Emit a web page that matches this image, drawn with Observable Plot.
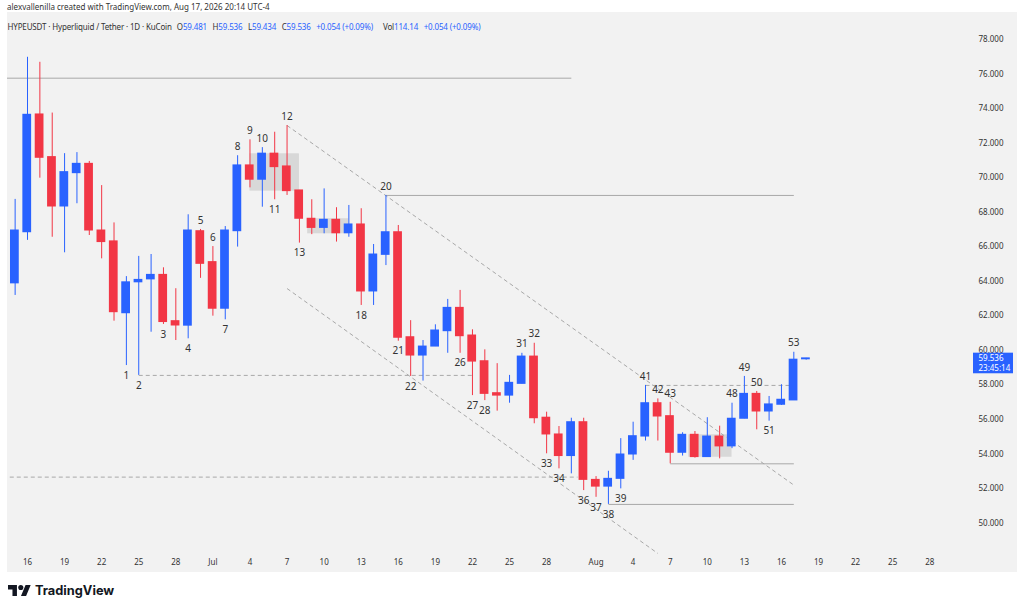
<!DOCTYPE html>
<html><head><meta charset="utf-8">
<script src="https://cdn.jsdelivr.net/npm/d3@7"></script>
<script src="https://cdn.jsdelivr.net/npm/@observablehq/plot@0.6"></script>
<style>
html,body{margin:0;padding:0;background:#fff;width:1024px;height:612px;overflow:hidden;font-family:"Noto Sans",sans-serif;}
#top{position:absolute;left:7px;top:1px;font-size:8px;line-height:11px;color:#333;white-space:pre;}
#panel{position:absolute;left:7px;top:12px;width:1010px;height:560px;background:#f2f2f2;overflow:hidden;}
#legend{position:absolute;left:7.5px;top:21px;font-size:8px;letter-spacing:-0.15px;line-height:12px;color:#333;white-space:pre;z-index:2;}
#legend .v{color:#2962ff}
#legend .g{margin-left:5.5px}
#logo{position:absolute;left:8px;top:583px;display:flex;align-items:center;gap:4px;font-family:Inter,sans-serif;font-weight:700;font-size:12.8px;color:#131722;}
</style></head><body>
<div id="top">alexvallenilla created with TradingView.com, Aug 17, 2026 20:14 UTC-4</div>
<div id="panel"></div>
<div id="legend"></div>
<div id="logo"><svg width="23" height="11.5" viewBox="0 4 36 18"><path fill="#131722" d="M14 22H7V11H0V4h14v18zM28 22h-8l7.5-18h8L28 22z"/><circle fill="#131722" cx="20" cy="8" r="4"/></svg><span>TradingView</span></div>
<script>
// ---- data ----
const dates = [
 "2026-06-15","2026-06-16","2026-06-17","2026-06-18","2026-06-19","2026-06-20","2026-06-21","2026-06-22",
 "2026-06-23","2026-06-24","2026-06-25","2026-06-26","2026-06-27","2026-06-28","2026-06-29","2026-06-30",
 "2026-07-01","2026-07-02","2026-07-03","2026-07-04","2026-07-05","2026-07-06","2026-07-07","2026-07-08",
 "2026-07-09","2026-07-10","2026-07-11","2026-07-12","2026-07-13","2026-07-14","2026-07-15","2026-07-16",
 "2026-07-17","2026-07-18","2026-07-19","2026-07-20","2026-07-21","2026-07-22","2026-07-23","2026-07-24",
 "2026-07-25","2026-07-26","2026-07-27","2026-07-28","2026-07-29","2026-07-30","2026-07-31",
 "2026-08-01","2026-08-02","2026-08-03","2026-08-04","2026-08-05","2026-08-06","2026-08-07","2026-08-08",
 "2026-08-09","2026-08-10","2026-08-11","2026-08-12","2026-08-13","2026-08-14","2026-08-15","2026-08-16",
 "2026-08-17","2026-08-18"];
const opens = [63.88,66.84,73.66,71.19,68.33,70.26,70.80,66.94,66.31,62.15,63.94,64.11,64.37,61.69,61.43,66.90,
 65.11,62.41,66.90,70.71,69.88,71.39,70.65,69.26,67.62,67.09,67.56,66.78,67.29,63.41,65.53,66.84,60.76,59.70,60.22,61.11,62.46,60.86,59.37,57.52,57.38,58.06,59.64,56.10,55.13,53.88,55.84,
 52.50,52.11,52.56,53.97,55.01,56.94,56.19,54.07,55.11,53.82,55.01,54.44,56.04,57.48,56.46,56.85,57.10,59.481];
const highs = [68.74,76.97,76.68,73.74,71.39,71.45,70.94,69.54,67.38,64.27,65.44,65.55,64.78,63.57,67.85,67.00,
 66.01,67.17,71.27,72.19,71.74,72.63,73.02,69.26,68.72,69.35,68.26,68.39,68.20,66.13,68.97,67.23,61.72,60.57,61.48,62.95,63.47,61.19,60.03,59.23,58.55,59.83,60.41,56.42,55.59,56.07,56.07,
 52.69,53.00,54.89,55.84,57.97,57.19,56.99,55.23,55.30,56.10,55.61,56.94,58.49,57.62,57.33,58.01,59.89,59.536];
const lows = [63.18,66.37,69.97,66.55,65.65,68.49,66.65,65.30,61.69,59.12,58.55,61.05,61.50,60.57,60.67,64.17,
 61.98,61.77,65.98,69.41,68.29,68.72,68.97,66.21,66.70,66.75,66.27,66.55,62.60,62.60,64.91,60.53,58.49,58.22,60.22,59.83,59.83,57.38,57.09,56.48,56.94,58.06,55.75,54.01,53.14,52.85,51.88,
 51.49,51.08,51.98,53.63,54.75,54.75,53.43,53.88,53.76,53.82,53.72,54.31,56.04,55.40,55.90,56.81,57.10,59.434];
const closes = [66.94,73.64,71.15,68.33,70.32,70.80,66.94,66.27,62.21,63.94,64.08,64.37,61.64,61.44,66.94,65.01,
 62.41,66.94,70.71,69.88,71.39,70.61,69.22,67.62,67.09,67.56,66.78,67.29,63.41,65.55,66.84,60.73,59.70,60.22,61.15,62.46,60.82,59.35,57.48,57.38,58.12,59.64,56.07,55.13,53.88,55.84,52.50,
 52.11,52.56,53.97,55.03,56.94,56.17,54.07,55.11,53.82,55.01,54.44,56.04,57.48,56.46,56.87,57.14,59.46,59.536];

const labelNums  = [1,2,3,4,5,6,7,8,9,10,11,12,13,18,20,21,22,26,27,28,31,32,33,34,36,37,38,39,41,42,43,48,49,50,51,53];
const labelDates = ["2026-06-24","2026-06-25","2026-06-27","2026-06-29","2026-06-30","2026-07-01","2026-07-02","2026-07-03",
 "2026-07-04","2026-07-05","2026-07-06","2026-07-07","2026-07-08","2026-07-13","2026-07-15","2026-07-16","2026-07-17",
 "2026-07-21","2026-07-22","2026-07-23","2026-07-26","2026-07-27","2026-07-28","2026-07-29","2026-07-31","2026-08-01",
 "2026-08-02","2026-08-03","2026-08-05","2026-08-06","2026-08-07","2026-08-12","2026-08-13","2026-08-14","2026-08-15","2026-08-17"];
const labelSides = ["below","below","below","below","above","above","below","above","above","above","below","above","below",
 "below","above","below","below","below","below","below","above","above","below","below","below","below","below","below",
 "above","above","above","above","above","above","below","above"];

// drawn lines (price levels and channel)
const lineStart = ["2026-06-14","2026-07-15","2026-08-07","2026-08-02","2026-06-25","2026-06-14","2026-08-05","2026-07-07","2026-07-07"];
const lineEnd   = ["2026-07-30","2026-08-17","2026-08-17","2026-08-17","2026-07-22","2026-07-30T12:00Z","2026-08-17","2026-08-17","2026-08-06"];
const lineFrom  = [75.76,68.97,53.43,51.08,58.55,52.66,57.97,73.02,63.58];
const lineTo    = [75.76,68.97,53.43,51.08,58.55,52.66,57.97,52.20,48.24];
const lineDashed= [false,false,false,false,true,true,true,true,true];

// shaded boxes
const boxStart  = ["2026-07-04","2026-07-08T16:00Z","2026-08-08T12:00Z"];
const boxEnd    = ["2026-07-08","2026-07-12","2026-08-12"];
const boxTop    = [71.38,67.62,55.11];
const boxBottom = [69.22,66.75,53.81];

const xTickDates = ["2026-06-16","2026-06-19","2026-06-22","2026-06-25","2026-06-28","2026-07-01","2026-07-04","2026-07-07",
 "2026-07-10","2026-07-13","2026-07-16","2026-07-19","2026-07-22","2026-07-25","2026-07-28","2026-08-01","2026-08-04",
 "2026-08-07","2026-08-10","2026-08-13","2026-08-16","2026-08-19","2026-08-22","2026-08-25","2026-08-28"];
const yTicks = [50,52,54,56,58,60,62,64,66,68,70,72,74,76,78];
const volume = 114.14;
const changeText = "+0.054 (+0.09%)";
const countdown = "23:45:14";

// ---- build ----
const BLUE = "#2962ff", RED = "#f23645", GRAY = "#a8a8a8";
const parse = s => new Date(s);
const candles = dates.map((d,i) => ({date: parse(d), open: opens[i], high: highs[i], low: lows[i], close: closes[i]}));
const byDate = new Map(candles.map(c => [+c.date, c]));
const labels = labelNums.map((n,i) => {
  const c = byDate.get(+parse(labelDates[i]));
  return {text: String(n), date: c.date, side: labelSides[i], y: labelSides[i] === "above" ? c.high : c.low};
});
const segs = lineStart.map((s,i) => ({x1: parse(s), x2: parse(lineEnd[i]), y1: lineFrom[i], y2: lineTo[i], dashed: lineDashed[i]}));
const boxes = boxStart.map((s,i) => ({x1: parse(s), x2: parse(boxEnd[i]), y1: boxTop[i], y2: boxBottom[i]}));
const col = d => d.close >= d.open ? BLUE : RED;
const last = candles[candles.length - 1];

const W = 1010, H = 560;
const chart = Plot.plot({
  width: W, height: H,
  marginTop: 27, marginBottom: 49.44, marginLeft: 0, marginRight: 50,
  style: {background: "#f2f2f2", fontFamily: "'Noto Sans', sans-serif", fontSize: "8px", color: "#333"},
  x: {type: "utc", domain: [parse("2026-06-16"), parse("2026-08-28")], range: [20, 922.28]},
  y: {domain: [50, 78], range: [510.56, 27]},
  marks: [
    Plot.rect(boxes, {x1: "x1", x2: "x2", y1: "y1", y2: "y2", fill: "#9a9a9a", fillOpacity: 0.3}),
    Plot.link(segs.filter(d => !d.dashed), {x1: "x1", x2: "x2", y1: "y1", y2: "y2", stroke: GRAY, strokeWidth: 1}),
    Plot.link(segs.filter(d => d.dashed), {x1: "x1", x2: "x2", y1: "y1", y2: "y2", stroke: GRAY, strokeWidth: 1, strokeDasharray: "4,3"}),
    Plot.ruleX(candles, {x: "date", y1: "low", y2: "high", stroke: col, strokeWidth: 1}),
    Plot.rect(candles, {x1: d => d3.utcHour.offset(d.date, -8.5), x2: d => d3.utcHour.offset(d.date, 8.5),
      y1: "open", y2: "close", fill: col, insetTop: -0.5, insetBottom: -0.5}),
    Plot.text(labels.filter(d => d.side === "above"), {x: "date", y: "y", text: "text", dy: -9, fontSize: 10, fill: "#333"}),
    Plot.text(labels.filter(d => d.side === "below"), {x: "date", y: "y", text: "text", dy: 10, fontSize: 10, fill: "#333"}),
    Plot.axisX(xTickDates.map(parse), {tickSize: 0, tickPadding: 36, color: "#333",
      tickFormat: d => d.getUTCDate() === 1 ? d3.utcFormat("%b")(d) : String(d.getUTCDate())}),
    Plot.axisY(yTicks, {anchor: "right", tickSize: 0, tickPadding: 11, color: "#333", tickFormat: d => d.toFixed(3)}),
    (index, scales, values, dims) => {
      const g = d3.create("svg:g").attr("text-anchor", "start");
      const y = scales.y(last.close);
      const x0 = dims.width - dims.marginRight + 6;
      g.append("rect").attr("x", x0).attr("y", y - 5.2).attr("width", 40).attr("height", 20.6).attr("fill", BLUE);
      g.append("text").attr("x", x0 + 5.5).attr("y", y + 0.8).attr("dy", "0.35em").attr("fill", "#fff")
        .attr("font-size", 8).text(last.close.toFixed(3));
      g.append("text").attr("x", x0 + 5.5).attr("y", y + 10.4).attr("dy", "0.35em").attr("fill", "#fff")
        .attr("font-size", 8).text(countdown);
      return g.node();
    }
  ]
});
document.getElementById("panel").appendChild(chart);

const v = t => `<span class="v">${t}</span>`;
document.getElementById("legend").innerHTML =
  `HYPEUSDT · Hyperliquid / Tether · 1D · KuCoin` +
  `<span class="g" style="margin-left:5px">O${v(last.open.toFixed(3))}</span>` +
  `<span class="g">H${v(last.high.toFixed(3))}</span>` +
  `<span class="g">L${v(last.low.toFixed(3))}</span>` +
  `<span class="g">C${v(last.close.toFixed(3))}</span>` +
  `<span class="g">${v(changeText)}</span>` +
  `<span class="g" style="margin-left:10px">Vol${v(volume.toFixed(2))}</span>` +
  `<span class="g">${v(changeText)}</span>`;
</script>
</body></html>
